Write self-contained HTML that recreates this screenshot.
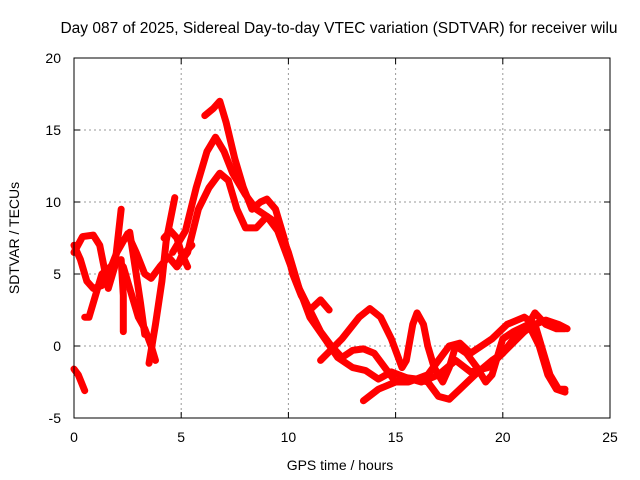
<!DOCTYPE html>
<html><head><meta charset="utf-8"><style>
body{margin:0;background:#fff}
svg{display:block;font-family:"Liberation Sans",sans-serif}
</style></head><body>
<svg id="chart" width="640" height="480" xmlns="http://www.w3.org/2000/svg">
<text x="339" y="33" font-size="15.5" text-anchor="middle">Day 087 of 2025, Sidereal Day-to-day VTEC variation (SDTVAR) for receiver wilu</text>
<g id="grid"></g>
<g id="series"></g>
<rect x="74" y="58" width="536" height="360" fill="none" stroke="#000" stroke-width="1"/>
<g id="ticks"></g>
<text x="340" y="470" font-size="14" text-anchor="middle">GPS time / hours</text>
<text transform="translate(19,238) rotate(-90)" font-size="14" text-anchor="middle">SDTVAR / TECUs</text>
</svg>
<script>
const xTicks=[0,5,10,15,20,25];
const yTicks=[-5,0,5,10,15,20];
const track0=[[0,-1.6],[0.2,-2],[0.5,-3.1]];
const track1=[[0,6.5],[0.4,7.6],[0.9,7.7],[1.2,7],[1.4,5.5],[1.6,4],[1.9,5.5],[2.2,9.5]];
const track2=[[0,7],[0.3,6],[0.6,4.5],[0.9,4],[1.3,4.2],[1.6,5],[2,6.5],[2.5,7.8],[2.9,6.5],[3.3,5],[3.6,4.7],[4,5.5],[4.4,6.2],[4.8,5.5],[5,6.2],[5.5,7]];
const track3=[[0.5,2],[0.7,2],[1,3.5],[1.3,5],[1.7,5.5],[2,6],[2.3,5.5],[2.5,4.5],[2.7,3.5],[3,2],[3.3,1.2],[3.6,0],[3.8,-1]];
const track4=[[2.6,7.9],[2.9,5],[3.1,3],[3.3,0.8]];
const track5=[[2.2,6],[2.3,3.5],[2.3,1]];
const track6=[[3.5,-1.2],[3.8,1.5],[4.1,4.5],[4.3,7.3],[4.7,10.3]];
const track7=[[4.2,7.5],[4.5,8],[4.8,7.5],[5,6.5],[5.3,5.5]];
const track8=[[6.1,16],[6.5,16.5],[6.8,17],[7.1,15.5],[7.5,13],[7.9,11],[8.3,9.5],[8.7,10],[9,10.2],[9.4,9.5],[9.8,7.5],[10.2,5],[10.6,3.5],[11,2.5],[11.5,3.2],[11.9,2.5]];
const track9=[[4.6,6.5],[5.2,8],[5.7,11],[6.2,13.5],[6.6,14.5],[7,13.5],[7.4,12],[8,10.5],[8.5,9.5],[9,9],[9.5,8],[10,6],[10.5,4],[11,2],[11.7,0.5],[12.3,-0.8],[13,-1.5],[13.6,-1.7],[14.2,-2.3],[14.8,-1.8],[15.5,-2.2],[16.2,-2.5],[17,-2],[17.8,-1],[18.5,-1.8],[19.3,-1.5],[20,-0.5],[21,1],[21.5,2.3],[22,1.5],[22.5,1.2],[22.9,1.2]];
const track10=[[4.8,5.5],[5.3,6.5],[5.8,9.5],[6.3,11],[6.8,12],[7.2,11.5],[7.6,9.5],[8,8.2],[8.5,8.2],[9,9],[9.5,8.5],[10,6.5],[10.5,4],[11,2.5],[11.5,1],[12,0],[12.5,-0.8],[13,-0.3],[13.5,-0.2],[14,-0.5],[14.5,-1.5],[15,-2.5],[15.5,-2.2],[16,-2.3],[16.5,-2.5],[17,-3.5],[17.5,-3.7],[18,-3],[18.7,-2],[19.5,-1],[20,-0.5],[20.5,0.5],[21,1],[21.5,1.5],[21.8,0],[22.2,-2],[22.6,-3],[22.9,-3]];
const track11=[[11.5,-1],[12.5,0.5],[13.3,2],[13.8,2.6],[14.3,2],[14.8,0.5],[15.3,-1.5],[15.5,-1],[15.8,1.5],[16,2.3],[16.3,1.5],[16.5,0],[16.8,-1.5],[17.2,-2.5],[17.5,-1.5],[17.8,0],[18.3,-0.5],[18.8,-1.5],[19.2,-2.5],[19.5,-2],[20,0.5],[20.5,1],[21.2,1.5],[21.7,0],[22.1,-2],[22.5,-3],[22.9,-3.2]];
const track12=[[13.5,-3.8],[14.2,-3],[15,-2.5],[15.6,-2.5],[16.5,-2],[17,-1],[17.5,0],[18,0.2],[18.5,-0.5],[19,0],[19.5,0.5],[20.2,1.5],[21,2],[21.5,1.5],[22,1.8],[22.6,1.5],[23,1.2]];
const tracks=[track0,track1,track2,track3,track4,track5,track6,track7,track8,track9,track10,track11,track12];

const X0=74,X1=610,Y0=418,Y1=58;
function sx(t){return X0+(t-0)/(25-0)*(X1-X0);}
function sy(v){return Y0-(v+5)/(20+5)*(Y0-Y1);}
const NS="http://www.w3.org/2000/svg";
const grid=document.getElementById('grid'),ticks=document.getElementById('ticks'),series=document.getElementById('series');
function mk(tag,attrs,parent){const e=document.createElementNS(NS,tag);for(const k in attrs)e.setAttribute(k,attrs[k]);parent.appendChild(e);return e;}
xTicks.forEach(t=>{
  const x=sx(t);
  if(t>0&&t<25){const g=mk('line',{x1:x,x2:x,y1:Y1,y2:Y0,stroke:'#999','stroke-dasharray':'2,3'},grid);
  
  }
  mk('line',{x1:x,x2:x,y1:Y0,y2:Y0-6,stroke:'#000'},ticks);
  mk('line',{x1:x,x2:x,y1:Y1,y2:Y1+6,stroke:'#000'},ticks);
  const l=mk('text',{x:x,y:Y0+24,'font-size':14,'text-anchor':'middle'},ticks);l.textContent=t;
  
  
});
yTicks.forEach(v=>{
  const y=sy(v);
  if(v>-5&&v<20){const g=mk('line',{x1:X0,x2:X1,y1:y,y2:y,stroke:'#999','stroke-dasharray':'2,3'},grid);
  
  }
  mk('line',{x1:X0,x2:X0+6,y1:y,y2:y,stroke:'#000'},ticks);
  mk('line',{x1:X1,x2:X1-6,y1:y,y2:y,stroke:'#000'},ticks);
  const l=mk('text',{x:X0-13,y:y+5,'font-size':14,'text-anchor':'end'},ticks);l.textContent=v;
  
  
});
tracks.forEach(tr=>{
  const p=mk('polyline',{points:tr.map(d=>sx(d[0])+','+sy(d[1])).join(' '),fill:'none',stroke:'#f00','stroke-width':7,'stroke-linejoin':'round','stroke-linecap':'round'},series);
  
  
});
</script>
</body></html>
